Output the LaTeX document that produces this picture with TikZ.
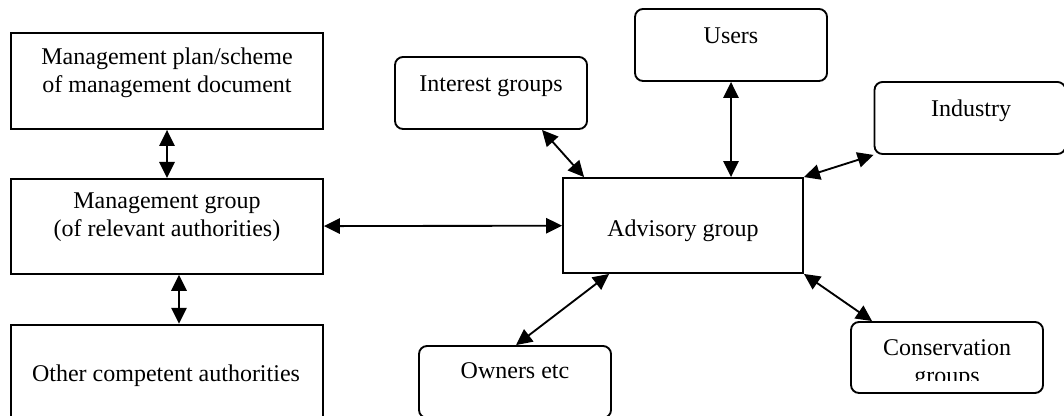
\documentclass[tikz,border=0pt]{standalone}
\usepackage{fontspec}
\setmainfont{Liberation Serif}
\usetikzlibrary{arrows.meta}
\usetikzlibrary{positioning}

\begin{document}
\begin{tikzpicture}
          [x=0.75pt, y=-0.75pt,
           every node/.style={font=\fontsize{18pt}{21pt}\selectfont, align=center, inner sep=0pt},
           box/.style={draw, line width=1.4pt, minimum width=234pt, minimum height=71.25pt},
           roundbox/.style={draw, line width=1.4pt, rounded corners=6pt, minimum width=144pt, minimum height=54pt},
           txt/.style={anchor=base},
           link/.style={line width=1.4pt, {Triangle[length=12pt,width=11.5pt]}-{Triangle[length=12pt,width=11.5pt]}}]
          \useasboundingbox (0,0) rectangle (1064,416);
          \clip (0,0) rectangle (1064,416);

          % left column
          \node (plan) [box, minimum height=72pt] at (167,81) {};
          \node (mgmt) [box, below = 36pt of plan] {};
          \node (other) [box, minimum height=72pt, below = 36.75pt of mgmt] {};

          % advisory side
          \node (adv) [box, minimum width=180pt] at (683,225.5) {};
          \node (interest) [roundbox] at (491,93) {};
          \node (users) [roundbox] at (731,45) {};
          \node (industry) [roundbox, minimum width=143.25pt] at (970,118) {};
          \node (cons) [roundbox, minimum height=53.25pt] at (947,357.5) {};
          \node (owners) [roundbox] at (515,382) {};

          % texts (base of a two-line text is its last line)
          \node (plan-t) [txt] at (167,93) {Management plan/scheme\\of management document};
          \node (mgmt-t) [txt] at (167,237) {Management group\\(of relevant authorities)};
          \node (other-t) [txt] at (166,382) {Other competent authorities};
          \node (adv-t) [txt] at (683,237) {Advisory group};
          \node (interest-t) [txt] at (491,92) {Interest groups};
          \node (users-t) [txt] at (731,44) {Users};
          \node (industry-t) [txt] at (971,117) {Industry};
          \node (owners-t) [txt] at (515,379) {Owners etc};
          \begin{scope}
            \clip (851,322) rectangle (1043,381);
            \node (cons-t) [txt] at (947,384) {Conservation\\groups};
          \end{scope}

          \draw[link] (plan) -- (mgmt);
          \draw[link] ([xshift=9pt]mgmt.south) -- ([xshift=9pt]other.north);
          \draw[link] (mgmt) -- (adv);
          \draw[link] ([xshift=38.25pt]interest.south) -- ([xshift=16.5pt]adv.north west);
          \draw[link] (users) -- (users |- adv.north);
          \draw[link] (industry.south west) -- (adv.north east);
          \draw[link] (adv.south east) -- ([xshift=16.5pt]cons.north west);
          \draw[link] ([xshift=35.25pt]adv.south west) -- ([xshift=73.5pt]owners.north west);

        \end{tikzpicture}
\end{document}
